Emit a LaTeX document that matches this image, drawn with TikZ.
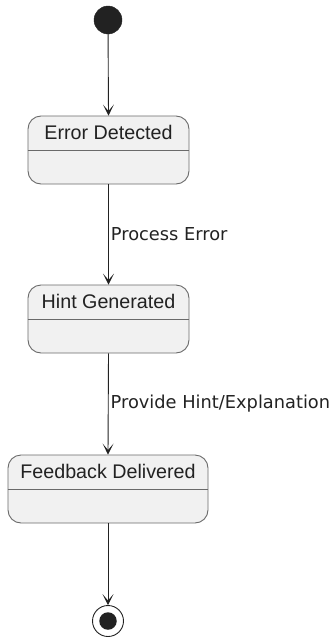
\documentclass[tikz,border=0pt]{standalone}
\usepackage{fontspec}
\setmainfont{Liberation Sans}
\newfontfamily\labelfont{DejaVu Sans}
\usetikzlibrary{arrows.meta}
\definecolor{statefill}{HTML}{F1F1F1}
\definecolor{stateline}{HTML}{6A6A6A}
\definecolor{ink}{HTML}{222222}
\tikzset{
  statebox/.style={draw=stateline, fill=statefill, line width=0.9pt,
    rounded corners=13pt, inner sep=0pt, minimum height=68pt},
  statetitle/.style={font=\fontsize{19.7}{22}\selectfont, text=ink, inner sep=0pt},
  sepline/.style={draw=stateline, line width=0.9pt},
  flow/.style={draw=ink, line width=0.9pt,
    -{Stealth[length=11pt, width=11pt, inset=6.5pt]}},
  flowlabel/.style={font=\labelfont\fontsize{17.8}{19}\selectfont, text=ink,
    anchor=west, inner sep=0pt, xshift=2pt},
  initial/.style={circle, fill=ink, draw=ink, minimum size=28pt, inner sep=0pt},
  finalring/.style={circle, draw=ink, line width=0.9pt, fill=white, minimum size=31pt, inner sep=0pt},
  finaldot/.style={circle, fill=ink, minimum size=17.5pt, inner sep=0pt},
}
\begin{document}
\begin{tikzpicture}[x=1pt, y=-1pt]
  \useasboundingbox (0,0) rectangle (332,637);

  % start and end pseudo-states
  \node[initial] (start) at (108,20) {};
  \node[finalring] (stop) at (108,621) {};
  \node[finaldot] (stopdot) at (stop.center) {};

  % states
  \node[statebox, minimum width=161pt] (err) at (108.5,150) {};
  \node[statebox, minimum width=161pt] (hint) at (108.5,319) {};
  \node[statebox, minimum width=200pt] (fb) at (108,489) {};

  \draw[sepline] (err.west) -- (err.east);
  \draw[sepline] (hint.west) -- (hint.east);
  \draw[sepline] (fb.west) -- (fb.east);

  \node[statetitle] (errt) at ([yshift=-17pt]err.north) {Error Detected};
  \node[statetitle] (hintt) at ([yshift=-17pt]hint.north) {Hint Generated};
  \node[statetitle] (fbt) at ([yshift=-17pt]fb.north) {Feedback Delivered};

  % transitions
  \draw[flow] (start) -- (err.north);
  \draw[flow] (err.south) -- node[flowlabel] (l1) {Process Error} (hint.north);
  \draw[flow] (hint.south) -- node[flowlabel] (l2) {Provide Hint/Explanation} (fb.north);
  \draw[flow] (fb.south) -- (stop);
\end{tikzpicture}
\end{document}
